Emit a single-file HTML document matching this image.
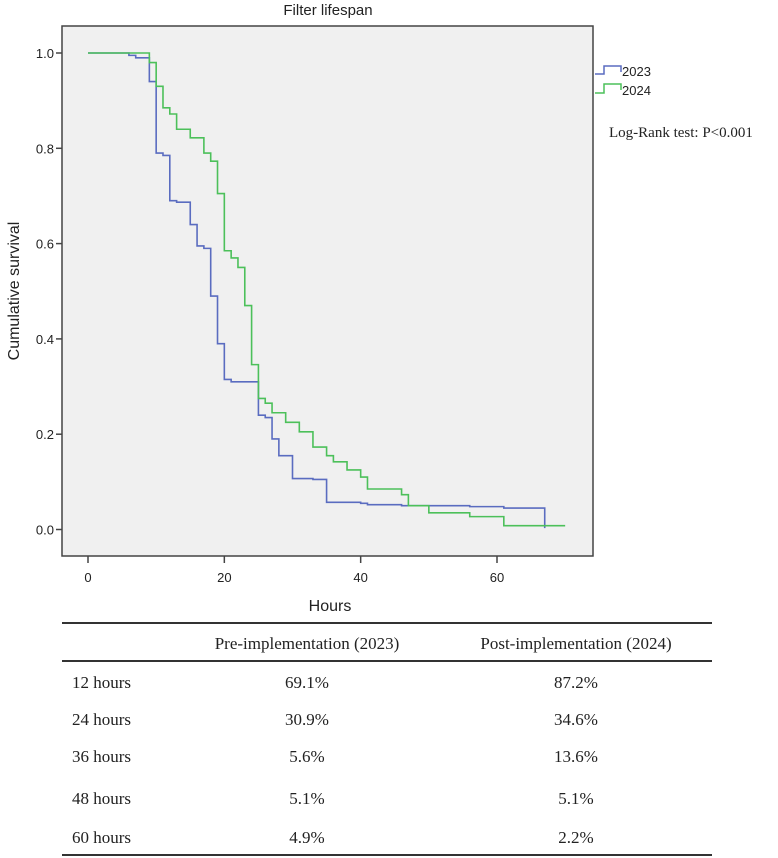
<!DOCTYPE html>
<html><head><meta charset="utf-8"><style>
body{margin:0;background:#fff;width:778px;height:858px;overflow:hidden}
svg{display:block}
.sans{font-family:"Liberation Sans",sans-serif}
.serif{font-family:"Liberation Serif",serif}
</style></head><body>
<svg id="chart" width="778" height="858">
<text class="sans" x="328" y="15" font-size="15" text-anchor="middle" fill="#222">Filter lifespan</text>
<rect x="62" y="26" width="531" height="530" fill="#f0f0f0" stroke="#444" stroke-width="1.5"/>
<g id="axes"></g>
<g id="series"></g>
<text class="sans" transform="translate(19,291) rotate(-90)" font-size="16" text-anchor="middle" fill="#222">Cumulative survival</text>
<text class="sans" x="330" y="611" font-size="16" text-anchor="middle" fill="#222">Hours</text>
<g>
<path d="M595 74 H604 V66 H621 V72" fill="none" stroke="#5a6cc0" stroke-width="1.5"/>
<text class="sans" x="622" y="76" font-size="13" fill="#222">2023</text>
<path d="M595 93 H604 V84 H621 V90" fill="none" stroke="#4cc05a" stroke-width="1.5"/>
<text class="sans" x="622" y="95" font-size="13" fill="#222">2024</text>
</g>
<text class="serif" x="609" y="137" font-size="15" fill="#222">Log-Rank test: P&lt;0.001</text>
<g class="serif" font-size="17" fill="#222">
<line x1="62" y1="623" x2="712" y2="623" stroke="#333" stroke-width="2"/>
<text x="307" y="649" text-anchor="middle">Pre-implementation (2023)</text>
<text x="576" y="649" text-anchor="middle">Post-implementation (2024)</text>
<line x1="62" y1="661" x2="712" y2="661" stroke="#333" stroke-width="2"/>
<g id="rows"></g>
<line x1="62" y1="855" x2="712" y2="855" stroke="#333" stroke-width="2"/>
</g>
</svg>
<script>
const yTicks=[0,0.2,0.4,0.6,0.8,1.0];
const xTicks=[0,20,40,60];
const t2023=[0,6,7,9,10,11,12,13,15,16,17,18,19,20,21,25,26,27,28,30,33,35,40,41,46,56,61,67];
const s2023=[1,0.995,0.99,0.94,0.79,0.785,0.69,0.687,0.64,0.595,0.59,0.49,0.39,0.315,0.31,0.24,0.235,0.19,0.155,0.107,0.105,0.057,0.055,0.052,0.05,0.048,0.045,0.003];
const end2023=67;
const t2024=[0,9,10,11,12,13,15,17,18,19,20,21,22,23,24,25,26,27,29,31,33,35,36,38,40,41,46,47,50,56,61];
const s2024=[1,0.98,0.93,0.885,0.872,0.84,0.822,0.79,0.773,0.705,0.585,0.57,0.55,0.47,0.346,0.275,0.265,0.245,0.225,0.205,0.173,0.155,0.142,0.125,0.11,0.085,0.073,0.05,0.035,0.027,0.008];
const end2024=70;
const rowLabels=["12 hours","24 hours","36 hours","48 hours","60 hours"];
const pre=["69.1%","30.9%","5.6%","5.1%","4.9%"];
const post=["87.2%","34.6%","13.6%","5.1%","2.2%"];

const NS="http://www.w3.org/2000/svg";
const X=h=>88+h*(497-88)/60;
const Y=v=>529.5-v*476.5;
const axes=document.getElementById('axes');
yTicks.forEach(v=>{
  const l=document.createElementNS(NS,'line');
  l.setAttribute('x1',56);l.setAttribute('x2',62);l.setAttribute('y1',Y(v));l.setAttribute('y2',Y(v));l.setAttribute('stroke','#444');l.setAttribute('stroke-width','1.5');
  
  
  axes.appendChild(l);
  const t=document.createElementNS(NS,'text');
  t.setAttribute('x',54);t.setAttribute('y',Y(v)+5);t.setAttribute('text-anchor','end');t.setAttribute('font-size','13');t.setAttribute('class','sans');t.setAttribute('fill','#222');
  t.textContent=v.toFixed(1);
  
  
  axes.appendChild(t);
});
xTicks.forEach(h=>{
  const l=document.createElementNS(NS,'line');
  l.setAttribute('x1',X(h));l.setAttribute('x2',X(h));l.setAttribute('y1',556);l.setAttribute('y2',563);l.setAttribute('stroke','#444');l.setAttribute('stroke-width','1.5');
  
  
  axes.appendChild(l);
  const t=document.createElementNS(NS,'text');
  t.setAttribute('x',X(h));t.setAttribute('y',582);t.setAttribute('text-anchor','middle');t.setAttribute('font-size','13');t.setAttribute('class','sans');t.setAttribute('fill','#222');
  t.textContent=h;
  
  
  axes.appendChild(t);
});
function stepPath(ts,ss,end){
  let d='M'+X(ts[0])+' '+Y(ss[0]);
  for(let i=1;i<ts.length;i++){d+=' H'+X(ts[i])+' V'+Y(ss[i]);}
  d+=' H'+X(end);
  return d;
}
const ser=document.getElementById('series');
const p1=document.createElementNS(NS,'path');
p1.setAttribute('d',stepPath(t2023,s2023,end2023));p1.setAttribute('fill','none');p1.setAttribute('stroke','#5a6cc0');p1.setAttribute('stroke-width','1.6');


ser.appendChild(p1);
const p2=document.createElementNS(NS,'path');
p2.setAttribute('d',stepPath(t2024,s2024,end2024));p2.setAttribute('fill','none');p2.setAttribute('stroke','#4cc05a');p2.setAttribute('stroke-width','1.6');


ser.appendChild(p2);
const rows=document.getElementById('rows');
const rowY=[688,725,762,804,843];
rowLabels.forEach((lab,i)=>{
  [[lab,72,'start'],[pre[i],307,'middle'],[post[i],576,'middle']].forEach(([txt,x,a],j)=>{
    const t=document.createElementNS(NS,'text');
    t.setAttribute('x',x);t.setAttribute('y',rowY[i]);t.setAttribute('text-anchor',a);
    t.textContent=txt;
    
    
    rows.appendChild(t);
  });
});
</script>
</body></html>
